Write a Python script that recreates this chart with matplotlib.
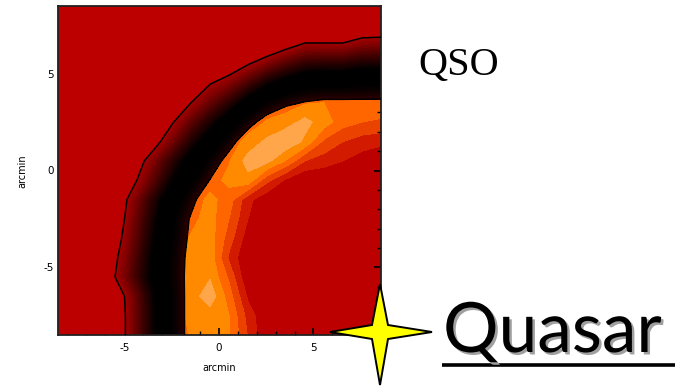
import numpy as np
import matplotlib
matplotlib.use("Agg")
import matplotlib.pyplot as plt
from matplotlib.colors import LinearSegmentedColormap
from matplotlib.ticker import MultipleLocator
from matplotlib.patches import Polygon
from matplotlib.lines import Line2D
import matplotlib.patheffects as pe

plt.rcParams["axes.unicode_minus"] = False

# ---- data (grid rows top y=8.5 -> bottom y=-8.5, cols x=-8.5 -> 8.5)
x_vals = np.linspace(-8.5, 8.57, 18)
y_vals = np.linspace(8.5, -8.5, 18)

# ring coordinate (x100): 0 = inner contour, 100 = outer contour
ring_rows = [
    [150] * 18,
    [150] * 12 + [142, 130, 131, 131, 120, 119],
    [150] * 8 + [145, 140, 131, 120, 108, 97, 97, 97, 89, 88],
    [150] * 7 + [144, 123, 115, 101, 87, 74, 64, 62, 62, 57, 57],
    [150] * 6 + [142, 123, 101, 89, 71, 53, 40, 31, 28, 28, 26, 25],
    [150] * 5 + [144, 118, 100, 81, 63, 40, 20, 6, -2, -6, -6, -6, -6],
    [150] * 5 + [126, 102, 79, 58, 35, 10, -13, -28, -35, -40, -40, -37, -37],
    [150] * 4 + [135, 110, 85, 60, 37, 11, -18, -47] + [-50] * 6,
    [150] * 3 + [138, 113, 89, 64, 40, 17, -11, -40] + [-50] * 7,
    [150] * 3 + [131, 104, 78, 51, 25, -1, -33] + [-50] * 8,
    [150, 150, 144, 117, 90, 62, 35, 8, -21, -47] + [-50] * 8,
    [150, 150, 144, 115, 85, 56, 26, -3, -32] + [-50] * 9,
    [150, 150, 139, 110, 81, 52, 23, -6, -36] + [-50] * 9,
    [150, 150, 133, 104, 76, 47, 19, -9, -38] + [-50] * 9,
    [150, 150, 127, 100, 73, 45, 18, -10, -37] + [-50] * 9,
    [150, 150, 148, 116, 84, 52, 21, -11, -43] + [-50] * 9,
    [150, 150, 150, 118, 85, 53, 21, -11, -44] + [-50] * 9,
    [150, 150, 150, 118, 85, 53, 21, -11, -44] + [-50] * 9,
]

# brightness of the inner band (0 = red, 5+ = light orange)
band_rows = [
    [3.3] * 18,
    [3.3] * 18,
    [3.3] * 18,
    [3.3] * 18,
    [3.3] * 18,
    [3.3] * 13 + [3.9, 4.0, 3.8, 3.7, 3.6],
    [3.3] * 11 + [4.1, 4.6, 5.3, 4.5, 3.4, 3.0, 2.85],
    [3.3] * 10 + [4.4, 5.2, 5.8, 4.8, 2.8, 2.0, 1.5, 1.3],
    [3.3] * 9 + [3.9, 5.4, 5.3, 3.9, 2.0, 1.5, 1.0, 0.5, 0.0],
    [3.3] * 8 + [3.5, 4.3, 4.7, 2.3, 0.8, 0.0, 0.0, 0.0, 0.0, 0.0],
    [3.3] * 8 + [4.3, 3.5, 1.3, 0.2] + [0.0] * 6,
    [3.3] * 7 + [3.7, 4.4, 3.0, 1.0] + [0.0] * 7,
    [3.3] * 7 + [4.1, 4.5, 2.5, 0.4] + [0.0] * 7,
    [3.3] * 7 + [4.3, 4.6, 1.8, 0.0] + [0.0] * 7,
    [3.3] * 7 + [4.4, 4.9, 2.8, 0.0] + [0.0] * 7,
    [3.3] * 7 + [4.5, 5.6, 3.5, 0.8] + [0.0] * 7,
    [3.3] * 7 + [4.3, 4.5, 4.0, 1.6] + [0.0] * 7,
    [3.3] * 7 + [4.1, 4.5, 4.1, 1.9] + [0.0] * 7,
]

tick_major = [-5, 0, 5]
axis_label = "arcmin"
title_text = "QSO"
big_text = "Quasar"

RED = "#BC0000"
band_levels = [-1, 1, 2, 3, 4, 5, 8]
band_colors = [RED, "#D21A00", "#EC4200", "#FF6600", "#FF8A00", "#FFA64A"]

ring = np.array(ring_rows, dtype=float)
band = np.array(band_rows, dtype=float)
X, Y = np.meshgrid(x_vals, y_vals)

fig = plt.figure(figsize=(6.8, 3.86), dpi=100)
W, H = 680.0, 386.0
ax = fig.add_axes([58 / W, 1 - 335 / H, (381 - 58) / W, (335 - 6) / H])
ax.set_facecolor(RED)

ax.contourf(X, Y, band, levels=band_levels, colors=band_colors,
            antialiased=False, zorder=1)

ring_cmap = LinearSegmentedColormap.from_list(
    "ring",
    [(0.0, "#2e0000"), (0.15, "#0a0000"), (0.25, "#000000"), (0.5, "#000000"),
     (0.65, "#2c0000"), (0.8, "#5e0000"), (0.92, "#880000"), (1.0, "#A00000")])
ring_levels = list(np.arange(0, 100.1, 2.5)) + [151]
mids = [(a + b) / 2 for a, b in zip(ring_levels[:-1], ring_levels[1:])]
ring_colors = [ring_cmap(min(m, 100) / 100.0) for m in mids[:-1]] + [RED]
ax.contourf(X, Y, ring, levels=ring_levels, colors=ring_colors,
            antialiased=False, zorder=2)
ax.contour(X, Y, ring, levels=[0, 100], colors="black", linewidths=1.1, zorder=3)

ax.set_xlim(-8.5, 8.57)
ax.set_ylim(-8.5, 8.5)
ax.set_xticks(tick_major)
ax.set_yticks(tick_major)
ax.xaxis.set_minor_locator(MultipleLocator(1))
ax.yaxis.set_minor_locator(MultipleLocator(1))
ax.tick_params(which="both", direction="in", top=True, right=True, colors="black",
               labelsize=7.5)
ax.tick_params(axis="x", which="major", length=5, width=1.2, pad=6)
ax.tick_params(axis="y", which="major", length=5, width=1.2, pad=3)
ax.tick_params(which="minor", length=3, width=1.0)
for s in ax.spines.values():
    s.set_linewidth(1.3)
    s.set_color("#222222")

fig.text(219 / W, 1 - 368 / H, axis_label, fontsize=7, ha="center", va="center")
fig.text(22 / W, 1 - 171 / H, axis_label, fontsize=7, ha="center", va="center",
         rotation=90)

fig.text(418 / W, 1 - 75 / H, title_text, fontfamily="Liberation Serif",
         fontsize=29, ha="left", va="baseline")

shadow = [pe.withSimplePatchShadow(offset=(1.8, -1.8), shadow_rgbFace="#a0a0a0",
                                   alpha=1.0)]
fig.text(443 / W, 1 - 352 / H, big_text, fontfamily="Lato", fontweight="normal",
         fontsize=50, ha="left", va="baseline", path_effects=shadow)
fig.add_artist(Line2D([442 / W, 675 / W], [1 - 365 / H] * 2,
                      transform=fig.transFigure, color="black", lw=2.6,
                      solid_capstyle="butt", path_effects=shadow))

star_px = [(380, 284), (388, 325), (432, 332), (388, 339), (380, 385),
           (372, 339), (330, 332), (372, 325)]
star = Polygon([(px / W, 1 - py / H) for px, py in star_px], closed=True,
               transform=fig.transFigure, facecolor="#FFFF00",
               edgecolor="black", linewidth=1.4, zorder=10)
fig.add_artist(star)

fig.savefig("out.png", dpi=100)
